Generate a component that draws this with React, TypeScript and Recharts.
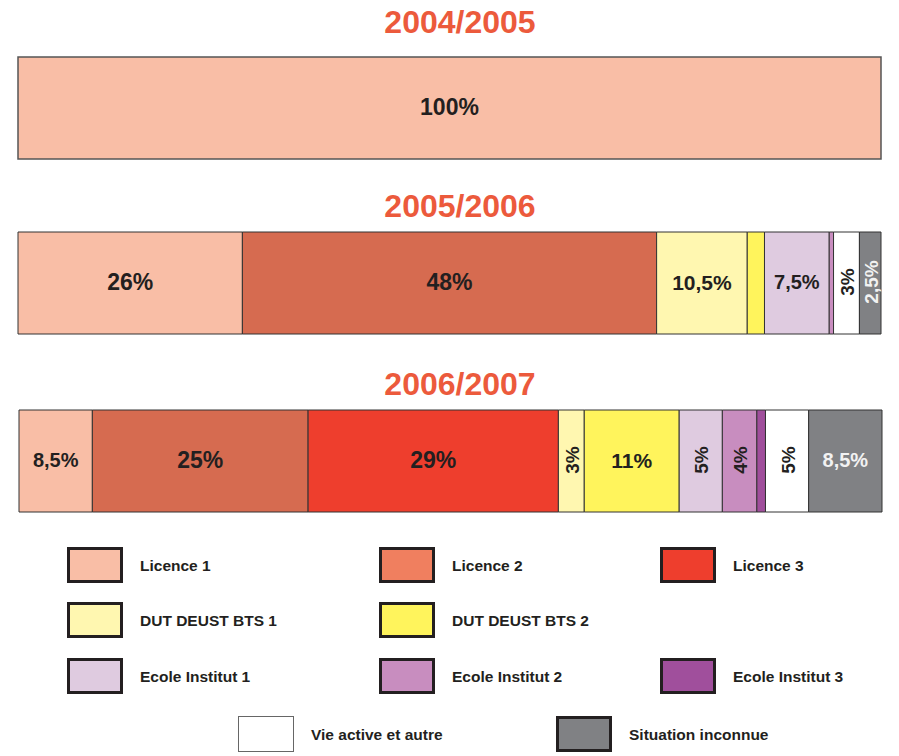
import React from 'react';
import { BarChart, Bar, XAxis, YAxis, LabelList } from 'recharts';

// school years (one bar each)
const years = ['2004/2005', '2005/2006', '2006/2007'];

// share of students per situation, in %, one value per year
const licence1 = [100, 26, 8.5];
const licence2 = [0, 48, 25];
const licence3 = [0, 0, 29];
const dut1 = [0, 10.5, 3];
const dut2 = [0, 2, 11];
const ecole1 = [0, 7.5, 5];
const ecole2 = [0, 0.5, 4];
const ecole3 = [0, 0, 1];
const vieActive = [0, 3, 5];
const inconnue = [0, 2.5, 8.5];

const series = [
    { key: 'l1', name: 'Licence 1', values: licence1, color: '#F9BEA6', legend: '#F9BEA6', text: '#231F20' },
    { key: 'l2', name: 'Licence 2', values: licence2, color: '#D66B50', legend: '#F07F5F', text: '#231F20' },
    { key: 'l3', name: 'Licence 3', values: licence3, color: '#EE3E2D', legend: '#EE3E2D', text: '#231F20' },
    { key: 'd1', name: 'DUT DEUST BTS 1', values: dut1, color: '#FFF7B0', legend: '#FFF7B0', text: '#231F20' },
    { key: 'd2', name: 'DUT DEUST BTS 2', values: dut2, color: '#FFF45C', legend: '#FFF45C', text: '#231F20' },
    { key: 'e1', name: 'Ecole Institut 1', values: ecole1, color: '#DFCBE0', legend: '#DFCBE0', text: '#231F20' },
    { key: 'e2', name: 'Ecole Institut 2', values: ecole2, color: '#C88DBF', legend: '#C88DBF', text: '#231F20' },
    { key: 'e3', name: 'Ecole Institut 3', values: ecole3, color: '#A04F9C', legend: '#A04F9C', text: '#231F20' },
    { key: 'va', name: 'Vie active et autre', values: vieActive, color: '#FFFFFF', legend: '#FFFFFF', text: '#231F20' },
    { key: 'si', name: 'Situation inconnue', values: inconnue, color: '#808184', legend: '#808184', text: '#F2F2F2' },
];

// legend grid: [series index, left, top]
const legendPlaces: [number, number, number][] = [
    [0, 67, 547], [1, 379, 547], [2, 660, 547],
    [3, 67, 602], [4, 379, 602],
    [5, 67, 658], [6, 379, 658], [7, 660, 658],
    [8, 238, 716], [9, 556, 716],
];

const chartTops = [56, 231, 409];
const titleTops = [4, 188, 366];

const FONT = '"Liberation Sans", Arial, sans-serif';

const makeLabel = (color: string) => (props: any) => {
    const { x, y, width, height, value } = props;
    if (!value || value < 2.5) return null;
    const txt = String(value).replace('.', ',') + '%';
    const cx = x + width / 2;
    const cy = y + height / 2 - 1;
    if (value <= 5) {
        return (
            <text x={cx + 1} y={cy} transform={`rotate(-90 ${cx + 1} ${cy})`} textAnchor="middle" dominantBaseline="central"
                fill={color} fontFamily={FONT} fontWeight="bold" fontSize={19}>{txt}</text>
        );
    }
    const fs = value < 10 ? 20 : value < 20 ? 21 : 23;
    return (
        <text x={cx} y={cy} textAnchor="middle" dominantBaseline="central"
            fill={color} fontFamily={FONT} fontWeight="bold" fontSize={fs}>{txt}</text>
    );
};

function YearBar({ index }: { index: number }) {
    const row: any = { year: years[index] };
    series.forEach((s) => { row[s.key] = s.values[index]; });
    const left = index === 2 ? 19 : 18;
    return (
        <div style={{ position: 'absolute', left: 0, top: chartTops[index] }}>
            <BarChart width={899} height={104} data={[row]} layout="vertical" barCategoryGap={0}
                margin={{ top: 1, right: 899 - left - 863, bottom: 1, left }}>
                <XAxis type="number" domain={[0, 100]} hide />
                <YAxis type="category" dataKey="year" hide />
                {series.map((s) => (
                    <Bar key={s.key} dataKey={s.key} stackId="a" fill={s.color}
                        stroke={index === 0 ? '#555555' : '#333333'} strokeWidth={index === 0 ? 1.5 : 1}
                        isAnimationActive={false}>
                        <LabelList dataKey={s.key} content={makeLabel(s.text)} />
                    </Bar>
                ))}
            </BarChart>
        </div>
    );
}

export default function App() {
    return (
        <div style={{ position: 'absolute', left: 0, top: 0, width: 899, height: 756, background: '#fff', fontFamily: FONT }}>
            {years.map((y, i) => (
                <div key={y} style={{ position: 'absolute', left: 0, width: 920, top: titleTops[i], textAlign: 'center',
                    color: '#EC5A3C', fontWeight: 'bold', fontSize: 32, lineHeight: '36px' }}>{y}</div>
            ))}
            {years.map((y, i) => <YearBar key={y} index={i} />)}
            {legendPlaces.map(([si, lx, ty]) => {
                const s = series[si];
                const isWhite = s.key === 'va';
                return (
                    <React.Fragment key={s.key}>
                        <div style={{ position: 'absolute', left: lx, top: ty, width: 56, height: 36, boxSizing: 'border-box',
                            background: s.legend, border: isWhite ? '1px solid #666' : '3px solid #231F20' }} />
                        <div style={{ position: 'absolute', left: lx + 73, top: ty + 1, height: 36, lineHeight: '36px',
                            fontSize: 15.5, fontWeight: 'bold', color: '#231F20', whiteSpace: 'nowrap' }}>{s.name}</div>
                    </React.Fragment>
                );
            })}
        </div>
    );
}
